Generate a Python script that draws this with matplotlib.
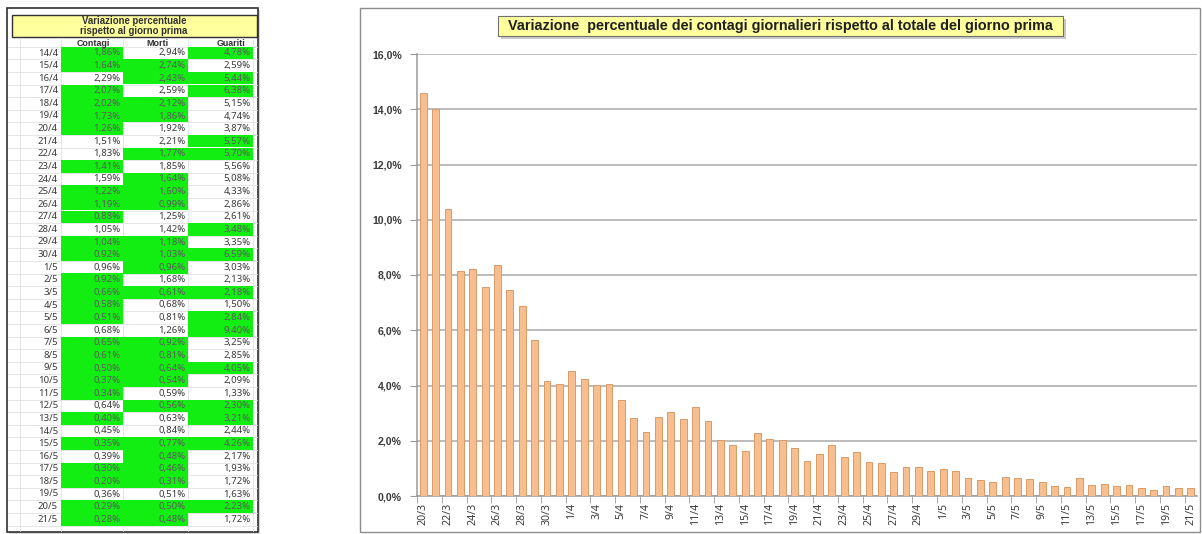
import numpy as np
import matplotlib.pyplot as plt
from matplotlib.patches import Rectangle
from matplotlib.ticker import FuncFormatter, FixedLocator

plt.rcParams['font.family'] = ['Noto Sans', 'DejaVu Sans']
BOLD = ['Liberation Sans', 'DejaVu Sans']

# daily change of cases before the table starts
early_dates = ["20/3", "21/3", "22/3", "23/3", "24/3", "25/3", "26/3", "27/3", "28/3",
               "29/3", "30/3", "31/3", "1/4", "2/4", "3/4", "4/4", "5/4", "6/4", "7/4",
               "8/4", "9/4", "10/4", "11/4", "12/4", "13/4"]
early_pct = [14.6, 14.0, 10.4, 8.13, 8.22, 7.55, 8.37, 7.44, 6.86, 5.66, 4.16, 4.05,
             4.54, 4.23, 4.01, 4.06, 3.48, 2.81, 2.31, 2.85, 3.03, 2.77, 3.21, 2.70, 2.04]

# table values
table_dates = ["14/4", "15/4", "16/4", "17/4", "18/4", "19/4", "20/4", "21/4", "22/4",
               "23/4", "24/4", "25/4", "26/4", "27/4", "28/4", "29/4", "30/4", "1/5",
               "2/5", "3/5", "4/5", "5/5", "6/5", "7/5", "8/5", "9/5", "10/5", "11/5",
               "12/5", "13/5", "14/5", "15/5", "16/5", "17/5", "18/5", "19/5", "20/5", "21/5"]
contagi = [1.86, 1.64, 2.29, 2.07, 2.02, 1.73, 1.26, 1.51, 1.83, 1.41, 1.59, 1.22, 1.19,
           0.88, 1.05, 1.04, 0.92, 0.96, 0.92, 0.66, 0.58, 0.51, 0.68, 0.65, 0.61, 0.50,
           0.37, 0.34, 0.64, 0.40, 0.45, 0.35, 0.39, 0.30, 0.20, 0.36, 0.29, 0.28]
morti = [2.94, 2.74, 2.43, 2.59, 2.12, 1.86, 1.92, 2.21, 1.77, 1.85, 1.64, 1.60, 0.99,
         1.25, 1.42, 1.18, 1.03, 0.96, 1.68, 0.61, 0.68, 0.81, 1.26, 0.92, 0.81, 0.64,
         0.54, 0.59, 0.56, 0.63, 0.84, 0.77, 0.48, 0.46, 0.31, 0.51, 0.50, 0.48]
guariti = [4.78, 2.59, 5.44, 6.38, 5.15, 4.74, 3.87, 5.57, 5.70, 5.56, 5.08, 4.33, 2.86,
           2.61, 3.48, 3.35, 6.59, 3.03, 2.13, 2.18, 1.50, 2.84, 9.40, 3.25, 2.85, 4.05,
           2.09, 1.33, 2.30, 3.21, 2.44, 4.26, 2.17, 1.93, 1.72, 1.63, 2.23, 1.72]
# green on the first row (previous day not shown)
first_green = {"contagi": True, "morti": False, "guariti": True}

chart_dates = early_dates + table_dates
chart_pct = early_pct + contagi

W, H = 1202, 534
fig = plt.figure(figsize=(W / 100, H / 100), dpi=100)
bg = fig.add_axes([0, 0, 1, 1])
bg.set_xlim(0, W)
bg.set_ylim(H, 0)
bg.axis('off')

txt = '#3a3a3a'
green = '#12ee12'

# ---------- table ----------
bg.add_patch(Rectangle((9, 10), 251, 524, fc='#b0b0b0', ec='none', alpha=0.5))
bg.add_patch(Rectangle((7, 8), 251, 524, fc='white', ec='#303030', lw=1.2))
bg.add_patch(Rectangle((12, 15), 245, 22, fc='#ffff9e', ec='#303030', lw=1))
bg.text(134, 20.5, "Variazione percentuale", ha='center', va='center', family=BOLD,
        fontsize=6.9, fontweight='bold', color='#303030')
bg.text(134, 31.5, "rispetto al giorno prima", ha='center', va='center', family=BOLD,
        fontsize=6.9, fontweight='bold', color='#303030')

col_edges = [61, 123, 188, 253]
for hx, lab in zip([93, 157, 231], ["Contagi", "Morti", "Guariti"]):
    bg.text(hx, 43.5, lab, ha='center', va='center', fontsize=6.4, family=BOLD,
            fontweight='bold', color='#303030')

y0, step = 53, 12.6
for i in range(len(table_dates) + 1):
    yy = y0 - step / 2 + i * step
    bg.plot([8, 257], [yy, yy], color='#e2e2e2', lw=0.6, zorder=1)
for xx in [20] + col_edges:
    bg.plot([xx, xx], [38, 531], color='#e2e2e2', lw=0.6, zorder=1)

columns = [("contagi", contagi, -1), ("morti", morti, -1), ("guariti", guariti, 1)]
for c, (name, vals, sign) in enumerate(columns):
    x_l, x_r = col_edges[c], col_edges[c + 1]
    for i, v in enumerate(vals):
        yc = y0 + i * step
        if i == 0:
            is_green = first_green[name]
        else:
            is_green = (v - vals[i - 1]) * sign > 0
        if is_green:
            bg.add_patch(Rectangle((x_l, yc - step / 2), x_r - x_l, step,
                                   fc=green, ec='none', zorder=2))
        bg.text(x_r - 2.5, yc, f"{v:.2f}%".replace('.', ','), ha='right', va='center',
                fontsize=6.9, color='#5a5a5a' if is_green else txt, zorder=3)

for i, d in enumerate(table_dates):
    bg.text(58, y0 + i * step, d, ha='right', va='center', fontsize=6.9, color=txt)

# ---------- chart frame and title ----------
bg.add_patch(Rectangle((360, 8), 840, 524, fc='white', ec='#8c8c8c', lw=1))
bg.add_patch(Rectangle((501, 19), 565, 20, fc='#a8a8a8', ec='none', alpha=0.6))
bg.add_patch(Rectangle((498, 16), 565, 20, fc='#ffff9e', ec='#707070', lw=0.8))
bg.text(780.5, 26, "Variazione  percentuale dei contagi giornalieri rispetto al totale del giorno prima",
        ha='center', va='center', fontsize=10.4, fontweight='bold', family=BOLD, color='#202020')

ax = fig.add_axes([417 / W, (H - 496) / H, (1197 - 417) / W, (496 - 54) / H])
x = np.arange(len(chart_dates))
ax.bar(x, chart_pct, width=0.55, color='#f7bf8f', edgecolor='#d99a66', linewidth=0.7, zorder=3)
ax.set_xlim(-0.5, len(chart_dates) - 0.5)
ax.set_ylim(0, 16)
ax.set_yticks(np.arange(0, 17, 2))
ax.yaxis.set_major_formatter(FuncFormatter(lambda v, p: f"{v:.1f}%".replace('.', ',')))
ax.grid(axis='y', color='#a9a9a9', lw=1.1, zorder=0)
for s in ['top', 'right']:
    ax.spines[s].set_visible(False)
for s in ['left', 'bottom']:
    ax.spines[s].set_color('#9a9a9a')
    ax.spines[s].set_linewidth(1.1)

ax.set_xticks(x[::2])
ax.set_xticklabels(chart_dates[::2], rotation=90, fontsize=7.6, color='#3a3a3a')
ax.tick_params(axis='x', which='major', length=0, pad=5)
ax.xaxis.set_minor_locator(FixedLocator(np.arange(-0.5, len(chart_dates), 2)))
ax.tick_params(axis='x', which='minor', length=5, color='#9a9a9a', direction='out')
ax.tick_params(axis='y', length=5, color='#9a9a9a', labelsize=7.6, labelcolor='#3a3a3a', pad=6)
for t in ax.get_yticklabels():
    t.set_fontweight('bold')
    t.set_family(BOLD)

fig.savefig('out.png', dpi=100)
